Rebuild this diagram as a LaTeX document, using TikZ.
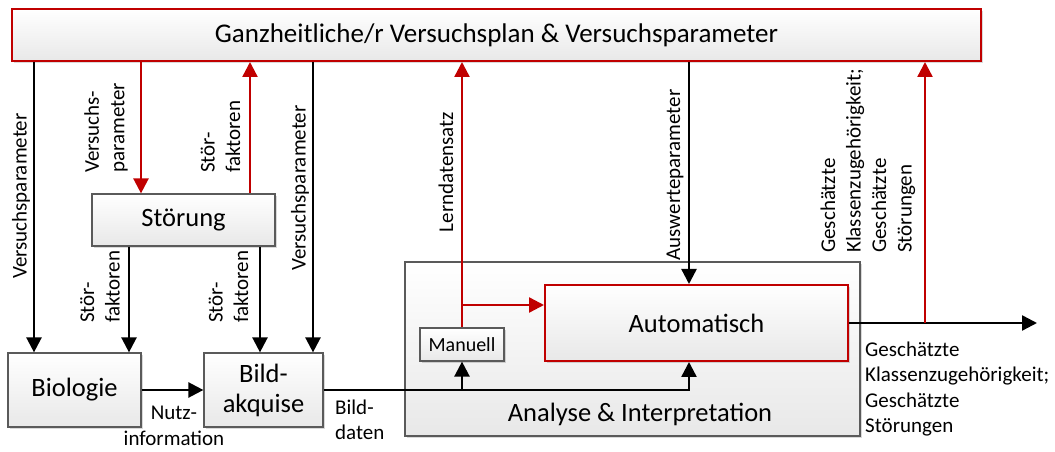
\documentclass[tikz,border=0pt]{standalone}
\usepackage{fontspec}
\setmainfont{Carlito}
\usetikzlibrary{arrows.meta,shadows,calc}
\definecolor{dred}{RGB}{192,0,0}
\definecolor{bord}{RGB}{90,90,90}
\begin{document}
\begin{tikzpicture}[x=1bp,y=-1bp,
 box/.style={draw=bord, line width=1.2bp, top color=white, bottom color=gray!18,
   drop shadow={shadow xshift=2bp,shadow yshift=-2bp,fill=black,opacity=.15},
   inner sep=0pt, font=\fontsize{26.5bp}{30bp}\selectfont, align=center},
 redbox/.style={box, draw=dred, line width=2bp},
 lab/.style={font=\fontsize{21bp}{25.5bp}\selectfont, inner sep=0pt},
 vlab/.style={lab, rotate=90, align=left, anchor=west},
 arr/.style={line width=2.4bp, -{Triangle[length=15bp,width=15bp]}},
 rarr/.style={arr, draw=dred},
]
\useasboundingbox (0,0) rectangle (1055,452);

% boxes
\node[redbox, minimum width=969bp, minimum height=52bp, font=\fontsize{27bp}{30bp}\selectfont] (plan) at (496.5,35) {Ganzheitliche/r Versuchsplan \& Versuchsparameter};
\node[box, minimum width=183bp, minimum height=52bp] (stoer) at (183.5,220) {Störung};
\node[box, minimum width=133bp, minimum height=74bp] (bio) at (74.5,390) {Biologie};
\node[box, minimum width=119bp, minimum height=74bp] (bild) at (263.5,390) {Bild-\\akquise};
\node[box, minimum width=455bp, minimum height=174bp] (ana) at (632.5,349) {};
\node[font=\fontsize{26.5bp}{30bp}\selectfont, inner sep=0pt] (anat) at (640,414) {Analyse \& Interpretation};
\node[box, font=\fontsize{20bp}{24bp}\selectfont, minimum width=84bp, minimum height=33bp] (man) at (462,344.5) {Manuell};
\node[redbox, minimum width=303bp, minimum height=76bp] (auto) at (696.5,323) {Automatisch};

% helper coordinates
\coordinate (c34) at (34,0);
\coordinate (c129) at (129,0);
\coordinate (c141) at (141,0);
\coordinate (c250) at (250,0);
\coordinate (c260) at (260,0);
\coordinate (c313) at (313,0);
\coordinate (c689) at (689,0);
\coordinate (c925) at (925,0);
\coordinate (rj) at (462,305);
\coordinate (out) at (1037,323);

% connectors
\draw[arr] (plan.south -| c34) -- (bio.north -| c34);
\draw[rarr] (plan.south -| c141) -- (stoer.north -| c141);
\draw[rarr] (stoer.north -| c250) -- (plan.south -| c250);
\draw[arr] (plan.south -| c313) -- (bild.north -| c313);
\draw[arr] (stoer.south -| c129) -- (bio.north -| c129);
\draw[arr] (stoer.south -| c260) -- (bild.north -| c260);
\draw[arr] (bio.east) -- (bild.west);
\draw[arr] (bild.east) -| (auto.south -| c689);
\draw[arr] (man.south |- bild.east) -- (man.south);
\draw[rarr] (man.north) -- (plan.south -| man.north);
\draw[rarr] (rj) -- (rj -| auto.west);
\draw[arr] (plan.south -| c689) -- (auto.north -| c689);
\draw[arr] (auto.east) -- (out);
\draw[rarr] (auto.east -| c925) -- (plan.south -| c925);

% labels
\node[lab, rotate=90] (l1) at (21,196) {Versuchsparameter};
\node[vlab] (l2) at (106,173) {Versuchs-\\parameter};
\node[vlab] (l3) at (220.5,173) {Stör-\\faktoren};
\node[lab, rotate=90] (l4) at (300,188) {Versuchsparameter};
\node[vlab] (l5) at (100,323) {Stör-\\faktoren};
\node[vlab] (l6) at (228.5,323) {Stör-\\faktoren};
\node[lab, align=center] (l7) at (174,426) {Nutz-\\information};
\node[lab, align=left, anchor=west] (l8) at (335,420) {Bild-\\daten};
\node[lab, rotate=90] (l9) at (446,172) {Lerndatensatz};
\node[lab, rotate=90] (l10) at (675,175) {Auswerteparameter};
\node[vlab] (l11) at (868,253) {Geschätzte\\Klassenzugehörigkeit;\\Geschätzte\\Störungen};
\node[lab, align=left, anchor=west] (l12) at (865,389) {Geschätzte\\Klassenzugehörigkeit;\\Geschätzte\\Störungen};
\end{tikzpicture}
\end{document}
